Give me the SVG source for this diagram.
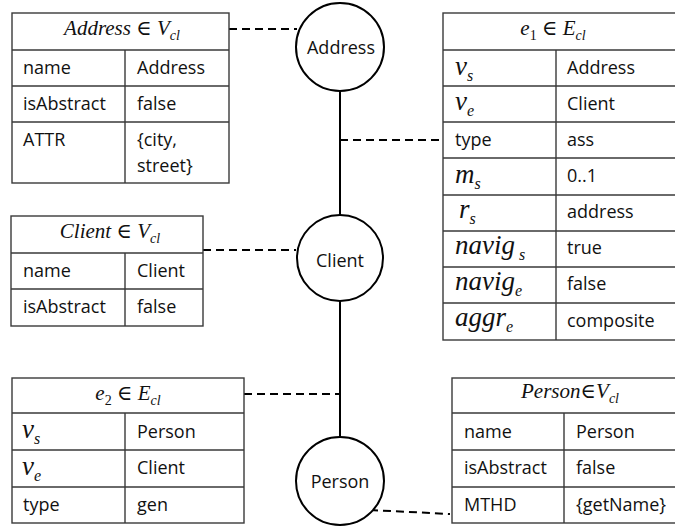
<svg xmlns="http://www.w3.org/2000/svg" width="675" height="527" viewBox="0 0 675 527">
<style>
.tb{fill:#fff;stroke:#3a3a3a;stroke-width:1.4}
.gl{stroke:#3a3a3a;stroke-width:1.4;fill:none}
.t{font-family:"Open Sans","Liberation Sans",sans-serif;font-size:18px;fill:#111}
.h{font-family:"Liberation Serif","DejaVu Serif",serif;font-size:21px;fill:#111}
.m{font-family:"Liberation Serif","DejaVu Serif",serif;font-style:italic;font-size:27px;fill:#111}
.i{font-style:italic}
.sb{font-size:14px;font-style:italic}
.ms{font-size:16px;font-style:italic}
.nd{fill:#fff;stroke:#000;stroke-width:2}
.ln{stroke:#000;stroke-width:2;fill:none}
.ds{stroke:#000;stroke-width:2;fill:none;stroke-dasharray:8 5}
</style>
<rect width="675" height="527" fill="#fff"/>
<g id="connectors">
<line class="ln" x1="340" y1="91" x2="340" y2="437"/>
<line class="ds" x1="229" y1="29" x2="297" y2="29"/>
<line class="ds" x1="340" y1="140" x2="443" y2="140"/>
<line class="ds" x1="203" y1="250" x2="296" y2="250"/>
<line class="ds" x1="244" y1="394" x2="340" y2="394"/>
<line class="ds" x1="370" y1="510" x2="450" y2="514"/>
</g>
<g id="node-address">
<circle class="nd" cx="340" cy="47" r="44"/>
<text class="t" x="341" y="54" text-anchor="middle">Address</text>
</g>
<g id="node-client">
<circle class="nd" cx="340" cy="258" r="43"/>
<text class="t" x="340" y="267" text-anchor="middle">Client</text>
</g>
<g id="node-person">
<circle class="nd" cx="340" cy="481" r="44"/>
<text class="t" x="340" y="488" text-anchor="middle">Person</text>
</g>
<g id="table-address">
<rect class="tb" x="12" y="13" width="217" height="170"/>
<path class="gl" d="M12 50H229M12 86H229M12 122H229M125 50V183"/>
<text class="h" x="122" y="35" text-anchor="middle"><tspan class="i">Address</tspan> ∈ <tspan class="i">V</tspan><tspan class="sb" dy="5">cl</tspan></text>
<text class="t" x="23" y="74">name</text><text class="t" x="137" y="74">Address</text>
<text class="t" x="23" y="110">isAbstract</text><text class="t" x="137" y="110">false</text>
<text class="t" x="23" y="146">ATTR</text><text class="t" x="137" y="146">{city,</text>
<text class="t" x="137" y="172">street}</text>
</g>
<g id="table-e1">
<rect class="tb" x="443" y="13" width="240" height="327"/>
<path class="gl" d="M443 50H683M443 86H683M443 122H683M443 158H683M443 195H683M443 231H683M443 267H683M443 303H683M556 50V340"/>
<text class="h" x="553" y="35" text-anchor="middle"><tspan class="i">e</tspan><tspan font-size="14" dy="5">1</tspan><tspan dy="-5"> ∈ </tspan><tspan class="i">E</tspan><tspan class="sb" dy="5">cl</tspan></text>
<text class="m" x="455" y="75">v<tspan class="ms" dy="6">s</tspan></text><text class="t" x="567" y="74">Address</text>
<text class="m" x="455" y="110">v<tspan class="ms" dy="6">e</tspan></text><text class="t" x="567" y="110">Client</text>
<text class="t" x="455" y="146">type</text><text class="t" x="567" y="146">ass</text>
<text class="m" x="455" y="183">m<tspan class="ms" dy="6">s</tspan></text><text class="t" x="567" y="182">0..1</text>
<text class="m" x="459" y="218">r<tspan class="ms" dy="6">s</tspan></text><text class="t" x="567" y="218">address</text>
<text class="m" x="455" y="254">navig<tspan class="ms" dy="6"> s</tspan></text><text class="t" x="567" y="254">true</text>
<text class="m" x="455" y="290">navig<tspan class="ms" dy="6">e</tspan></text><text class="t" x="567" y="290">false</text>
<text class="m" x="455" y="326">aggr<tspan class="ms" dy="6">e</tspan></text><text class="t" x="567" y="327">composite</text>
</g>
<g id="table-client">
<rect class="tb" x="11" y="216" width="192" height="110"/>
<path class="gl" d="M11 253H203M11 289H203M125 253V326"/>
<text class="h" x="110" y="238" text-anchor="middle"><tspan class="i">Client</tspan> ∈ <tspan class="i">V</tspan><tspan class="sb" dy="5">cl</tspan></text>
<text class="t" x="23" y="277">name</text><text class="t" x="137" y="277">Client</text>
<text class="t" x="23" y="313">isAbstract</text><text class="t" x="137" y="313">false</text>
</g>
<g id="table-e2">
<rect class="tb" x="12" y="378" width="232" height="145"/>
<path class="gl" d="M12 413H244M12 450H244M12 487H244M125 413V523"/>
<text class="h" x="128" y="400" text-anchor="middle"><tspan class="i">e</tspan><tspan font-size="14" dy="5">2</tspan><tspan dy="-5"> ∈ </tspan><tspan class="i">E</tspan><tspan class="sb" dy="5">cl</tspan></text>
<text class="m" x="22" y="438">v<tspan class="ms" dy="6">s</tspan></text><text class="t" x="137" y="438">Person</text>
<text class="m" x="22" y="475">v<tspan class="ms" dy="6">e</tspan></text><text class="t" x="137" y="474">Client</text>
<text class="t" x="23" y="511">type</text><text class="t" x="137" y="511">gen</text>
</g>
<g id="table-person">
<rect class="tb" x="452" y="378" width="240" height="145"/>
<path class="gl" d="M452 413H692M452 450H692M452 487H692M564 413V523"/>
<text class="h" x="570" y="398" text-anchor="middle"><tspan class="i">Person</tspan>∈<tspan class="i">V</tspan><tspan class="sb" dy="5">cl</tspan></text>
<text class="t" x="464" y="438">name</text><text class="t" x="576" y="438">Person</text>
<text class="t" x="464" y="474">isAbstract</text><text class="t" x="576" y="474">false</text>
<text class="t" x="464" y="511">MTHD</text><text class="t" x="576" y="511">{getName}</text>
</g>
</svg>
